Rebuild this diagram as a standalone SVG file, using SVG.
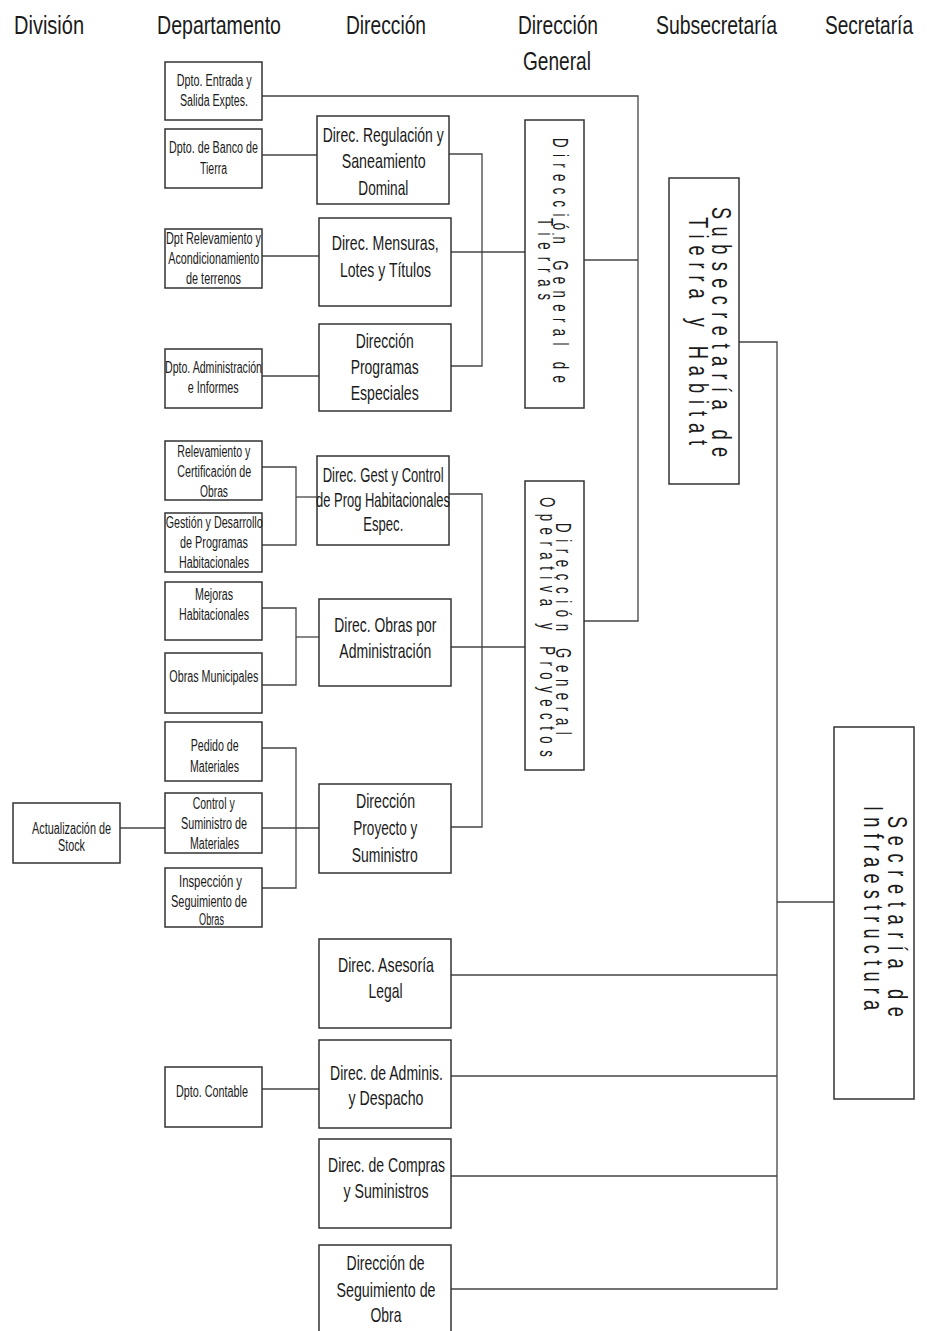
<svg xmlns="http://www.w3.org/2000/svg" width="940" height="1331" viewBox="0 0 940 1331">
<style>
text{font-family:"Liberation Sans",Arial,sans-serif;fill:#1a1a1a}
.h{font-size:25px}
.s{font-size:16px}
.m{font-size:21px}
.v1{font-size:22px}
.v2{font-size:28px}
rect{fill:#fff;stroke:#333;stroke-width:1.5}
#connectors path{fill:none;stroke:#444;stroke-width:1.3}
</style>
<rect x="0" y="0" width="940" height="1331" style="fill:#fff;stroke:none"/>
<g id="headers">
<text class="h" x="14" y="34" textLength="70" lengthAdjust="spacingAndGlyphs">División</text>
<text class="h" x="157" y="34" textLength="124" lengthAdjust="spacingAndGlyphs">Departamento</text>
<text class="h" x="346" y="34" textLength="80" lengthAdjust="spacingAndGlyphs">Dirección</text>
<text class="h" x="518" y="34" textLength="80" lengthAdjust="spacingAndGlyphs">Dirección</text>
<text class="h" x="523" y="70" textLength="68" lengthAdjust="spacingAndGlyphs">General</text>
<text class="h" x="656" y="34" textLength="121" lengthAdjust="spacingAndGlyphs">Subsecretaría</text>
<text class="h" x="825" y="34" textLength="88" lengthAdjust="spacingAndGlyphs">Secretaría</text>
</g>
<g id="connectors">
<path d="M262,96 H638 V621 H584"/>
<path d="M584,260 H638"/>
<path d="M262,155 H317"/>
<path d="M262,256 H319"/>
<path d="M262,376 H319"/>
<path d="M449,154 H482 V366 H451"/>
<path d="M451,252 H525"/>
<path d="M262,467 H296 V545 H262"/>
<path d="M296,497 H317"/>
<path d="M449,494 H482 V827 H451"/>
<path d="M262,608 H296 V685 H262"/>
<path d="M296,637 H319"/>
<path d="M451,647 H525"/>
<path d="M262,748 H296 V888 H262"/>
<path d="M120,828 H319"/>
<path d="M739,342 H777 V1289 H451"/>
<path d="M451,975 H777"/>
<path d="M451,1076 H777"/>
<path d="M451,1176 H777"/>
<path d="M777,902 H834"/>
<path d="M262,1089 H319"/>
</g>
<g id="dpto-entrada"><rect x="165" y="62" width="97" height="58"/>
<text class="s" x="176.7" y="86" textLength="75" lengthAdjust="spacingAndGlyphs">Dpto. Entrada y</text>
<text class="s" x="180" y="106" textLength="68" lengthAdjust="spacingAndGlyphs">Salida Exptes.</text></g>
<g id="dpto-banco"><rect x="165" y="129" width="97" height="59"/>
<text class="s" x="169" y="153" textLength="89" lengthAdjust="spacingAndGlyphs">Dpto. de Banco de</text>
<text class="s" x="200" y="174" textLength="27" lengthAdjust="spacingAndGlyphs">Tierra</text></g>
<g id="dpto-relev"><rect x="165" y="229" width="97" height="59"/>
<text class="s" x="166" y="244" textLength="95" lengthAdjust="spacingAndGlyphs">Dpt Relevamiento y</text>
<text class="s" x="168.3" y="264" textLength="91" lengthAdjust="spacingAndGlyphs">Acondicionamiento</text>
<text class="s" x="186" y="284" textLength="55" lengthAdjust="spacingAndGlyphs">de terrenos</text></g>
<g id="dpto-admin"><rect x="165" y="349" width="97" height="59"/>
<text class="s" x="165" y="373" textLength="97" lengthAdjust="spacingAndGlyphs">Dpto. Administración</text>
<text class="s" x="187.7" y="393" textLength="51" lengthAdjust="spacingAndGlyphs">e Informes</text></g>
<g id="relev-cert"><rect x="165" y="441" width="97" height="59"/>
<text class="s" x="177.3" y="457" textLength="73" lengthAdjust="spacingAndGlyphs">Relevamiento y</text>
<text class="s" x="177.3" y="477" textLength="74" lengthAdjust="spacingAndGlyphs">Certificación de</text>
<text class="s" x="200" y="497" textLength="28" lengthAdjust="spacingAndGlyphs">Obras</text></g>
<g id="gestion-desarrollo"><rect x="165" y="513" width="97" height="59"/>
<text class="s" x="165.7" y="528" textLength="97" lengthAdjust="spacingAndGlyphs">Gestión y Desarrollo</text>
<text class="s" x="180" y="548" textLength="68" lengthAdjust="spacingAndGlyphs">de Programas</text>
<text class="s" x="179" y="568" textLength="70" lengthAdjust="spacingAndGlyphs">Habitacionales</text></g>
<g id="mejoras"><rect x="165" y="582" width="97" height="58"/>
<text class="s" x="195" y="600" textLength="38" lengthAdjust="spacingAndGlyphs">Mejoras</text>
<text class="s" x="179" y="620" textLength="70" lengthAdjust="spacingAndGlyphs">Habitacionales</text></g>
<g id="obras-municipales"><rect x="165" y="653" width="97" height="60"/>
<text class="s" x="169.3" y="682" textLength="89" lengthAdjust="spacingAndGlyphs">Obras Municipales</text></g>
<g id="pedido"><rect x="165" y="722" width="97" height="59"/>
<text class="s" x="190.7" y="751" textLength="48" lengthAdjust="spacingAndGlyphs">Pedido de</text>
<text class="s" x="190" y="772" textLength="49" lengthAdjust="spacingAndGlyphs">Materiales</text></g>
<g id="control"><rect x="165" y="793" width="97" height="60"/>
<text class="s" x="192.7" y="809" textLength="42" lengthAdjust="spacingAndGlyphs">Control y</text>
<text class="s" x="181" y="829" textLength="66" lengthAdjust="spacingAndGlyphs">Suministro de</text>
<text class="s" x="190" y="849" textLength="49" lengthAdjust="spacingAndGlyphs">Materiales</text></g>
<g id="inspeccion"><rect x="165" y="868" width="97" height="59"/>
<text class="s" x="179" y="887" textLength="63" lengthAdjust="spacingAndGlyphs">Inspección y</text>
<text class="s" x="171" y="907" textLength="76" lengthAdjust="spacingAndGlyphs">Seguimiento de</text>
<text class="s" x="199" y="925" textLength="25" lengthAdjust="spacingAndGlyphs">Obras</text></g>
<g id="dpto-contable"><rect x="165" y="1067" width="97" height="60"/>
<text class="s" x="176" y="1097" textLength="72" lengthAdjust="spacingAndGlyphs">Dpto. Contable</text></g>
<g id="stock"><rect x="13" y="803" width="107" height="60"/>
<text class="s" x="32" y="834" textLength="79" lengthAdjust="spacingAndGlyphs">Actualización de</text>
<text class="s" x="58" y="851" textLength="27" lengthAdjust="spacingAndGlyphs">Stock</text></g>
<g id="dir-regulacion"><rect x="317" y="116" width="132" height="88"/>
<text class="m" x="322.7" y="142" textLength="121" lengthAdjust="spacingAndGlyphs">Direc. Regulación y</text>
<text class="m" x="341.7" y="168" textLength="84" lengthAdjust="spacingAndGlyphs">Saneamiento</text>
<text class="m" x="358.3" y="195" textLength="50" lengthAdjust="spacingAndGlyphs">Dominal</text></g>
<g id="dir-mensuras"><rect x="319" y="218" width="132" height="88"/>
<text class="m" x="331.7" y="250" textLength="107" lengthAdjust="spacingAndGlyphs">Direc. Mensuras,</text>
<text class="m" x="340" y="277" textLength="91" lengthAdjust="spacingAndGlyphs">Lotes y Títulos</text></g>
<g id="dir-programas"><rect x="319" y="324" width="132" height="87"/>
<text class="m" x="355.7" y="348" textLength="58" lengthAdjust="spacingAndGlyphs">Dirección</text>
<text class="m" x="350.7" y="374" textLength="68" lengthAdjust="spacingAndGlyphs">Programas</text>
<text class="m" x="350.7" y="400" textLength="68" lengthAdjust="spacingAndGlyphs">Especiales</text></g>
<g id="dir-gest"><rect x="317" y="456" width="132" height="89"/>
<text class="m" x="322.7" y="482" textLength="121" lengthAdjust="spacingAndGlyphs">Direc. Gest y Control</text>
<text class="m" x="316" y="507" textLength="134" lengthAdjust="spacingAndGlyphs">de Prog Habitacionales</text>
<text class="m" x="363.3" y="531" textLength="40" lengthAdjust="spacingAndGlyphs">Espec.</text></g>
<g id="dir-obras"><rect x="319" y="599" width="132" height="87"/>
<text class="m" x="334.3" y="632" textLength="102" lengthAdjust="spacingAndGlyphs">Direc. Obras por</text>
<text class="m" x="339.3" y="658" textLength="92" lengthAdjust="spacingAndGlyphs">Administración</text></g>
<g id="dir-proyecto"><rect x="319" y="784" width="132" height="89"/>
<text class="m" x="356" y="808" textLength="59" lengthAdjust="spacingAndGlyphs">Dirección</text>
<text class="m" x="353.3" y="835" textLength="64" lengthAdjust="spacingAndGlyphs">Proyecto y</text>
<text class="m" x="351.7" y="862" textLength="66" lengthAdjust="spacingAndGlyphs">Suministro</text></g>
<g id="dir-asesoria"><rect x="319" y="939" width="132" height="89"/>
<text class="m" x="338" y="972" textLength="96" lengthAdjust="spacingAndGlyphs">Direc. Asesoría</text>
<text class="m" x="368.5" y="998" textLength="34" lengthAdjust="spacingAndGlyphs">Legal</text></g>
<g id="dir-adminis"><rect x="319" y="1040" width="132" height="88"/>
<text class="m" x="330" y="1080" textLength="113" lengthAdjust="spacingAndGlyphs">Direc. de Adminis.</text>
<text class="m" x="348.5" y="1105" textLength="75" lengthAdjust="spacingAndGlyphs">y Despacho</text></g>
<g id="dir-compras"><rect x="319" y="1139" width="132" height="89"/>
<text class="m" x="328" y="1172" textLength="117" lengthAdjust="spacingAndGlyphs">Direc. de Compras</text>
<text class="m" x="343.5" y="1198" textLength="85" lengthAdjust="spacingAndGlyphs">y Suministros</text></g>
<g id="dir-seguimiento"><rect x="319" y="1245" width="132" height="90"/>
<text class="m" x="346.5" y="1270" textLength="78" lengthAdjust="spacingAndGlyphs">Dirección de</text>
<text class="m" x="336.5" y="1297" textLength="99" lengthAdjust="spacingAndGlyphs">Seguimiento de</text>
<text class="m" x="370.5" y="1322" textLength="31" lengthAdjust="spacingAndGlyphs">Obra</text></g>
<g id="dg-tierras"><rect x="525" y="120" width="59" height="288"/>
<text class="v1" transform="translate(553,138) rotate(90) scale(0.6,1)" x="0" y="0" textLength="408" lengthAdjust="spacing">Dirección General de</text>
<text class="v1" transform="translate(538,218) rotate(90) scale(0.6,1)" x="0" y="0" textLength="137" lengthAdjust="spacing">Tierras</text></g>
<g id="dg-operativa"><rect x="525" y="481" width="59" height="289"/>
<text class="v1" transform="translate(556,523) rotate(90) scale(0.6,1)" x="0" y="0" textLength="353" lengthAdjust="spacing">Dirección General</text>
<text class="v1" transform="translate(540,497) rotate(90) scale(0.6,1)" x="0" y="0" textLength="433" lengthAdjust="spacing">Operativa y Proyectos</text></g>
<g id="subsecretaria"><rect x="669" y="178" width="70" height="306"/>
<text class="v2" transform="translate(712,207) rotate(90) scale(0.65,1)" x="0" y="0" textLength="385" lengthAdjust="spacing">Subsecretaría de</text>
<text class="v2" transform="translate(689,217) rotate(90) scale(0.65,1)" x="0" y="0" textLength="351" lengthAdjust="spacing">Tierra y Habitat</text></g>
<g id="secretaria"><rect x="834" y="727" width="80" height="372"/>
<text class="v2" transform="translate(888,816) rotate(90) scale(0.65,1)" x="0" y="0" textLength="309" lengthAdjust="spacing">Secretaría de</text>
<text class="v2" transform="translate(864,806) rotate(90) scale(0.65,1)" x="0" y="0" textLength="314" lengthAdjust="spacing">Infraestructura</text></g>
</svg>
